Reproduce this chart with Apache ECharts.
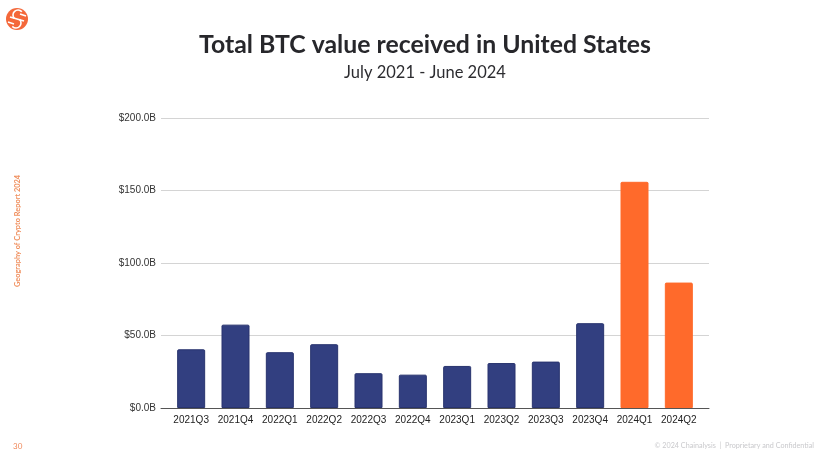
<!DOCTYPE html>
<html>
<head>
<meta charset="utf-8">
<style>
  html, body { margin: 0; padding: 0; background: #fff; }
  #chart { width: 828px; height: 462px; }
</style>
<script src="https://cdn.jsdelivr.net/npm/echarts@6/dist/echarts.min.js"></script>
</head>
<body>
<div id="chart"></div>
<script>
var quarters = ['2021Q3', '2021Q4', '2022Q1', '2022Q2', '2022Q3', '2022Q4', '2023Q1', '2023Q2', '2023Q3', '2023Q4', '2024Q1', '2024Q2'];
var btcValues = [40.5, 57.5, 38.5, 44, 24, 23, 29, 31, 32, 58.5, 156, 86.5];
var highlighted = ['2024Q1', '2024Q2'];

var navy = '#323f80';
var navyEdge = '#28336e';
var orange = '#ff6a2b';
var chart = echarts.init(document.getElementById('chart'));

chart.setOption({
    animation: false,
    backgroundColor: '#fff',
    title: [{
        text: 'Total BTC value received in United States',
        left: 425, top: 33, padding: 0, textAlign: 'center',
        textStyle: { fontFamily: 'Lato', fontSize: 24.8, fontWeight: 'bold', color: '#27272b' }
    }, {
        text: 'July 2021 - June 2024',
        left: 425, top: 64, padding: 0, textAlign: 'center',
        textStyle: { fontFamily: 'Lato', fontSize: 16.5, fontWeight: 'normal', color: '#2c2c30' }
    }, {
        text: '30',
        left: 13, top: 442, padding: 0,
        textStyle: { fontFamily: 'Lato', fontSize: 8, fontWeight: 'normal', color: '#f08a5c' }
    }, {
        text: '© 2024 Chainalysis  |  Proprietary and Confidential',
        right: 14, top: 442, padding: 0,
        textStyle: { fontFamily: 'Lato', fontSize: 7.2, fontWeight: 'normal', color: '#c9c9cc' }
    }],
    // the gridlines and baseline run past the bars, so they get their own wider grid
    grid: [
        { left: 161, right: 119, top: 118, bottom: 54 },
        { left: 169, right: 127, top: 118, bottom: 54 }
    ],
    xAxis: [{
        gridIndex: 0, type: 'category', data: quarters,
        axisLine: { show: true, lineStyle: { color: '#555', width: 1 } },
        axisTick: { show: false }, axisLabel: { show: false }
    }, {
        gridIndex: 1, type: 'category', data: quarters,
        axisLine: { show: false }, axisTick: { show: false },
        axisLabel: { interval: 0, margin: 7, fontFamily: 'Liberation Sans', fontSize: 10, color: '#222' }
    }],
    yAxis: [{
        gridIndex: 0, type: 'value', min: 0, max: 200, interval: 50,
        axisLine: { show: false }, axisTick: { show: false },
        splitLine: { lineStyle: { color: '#d4d4d4', width: 1 } },
        axisLabel: {
            margin: 5, fontFamily: 'Liberation Sans', fontSize: 10, color: '#333',
            formatter: function (v) { return '$' + v.toFixed(1) + 'B'; }
        }
    }, {
        gridIndex: 1, type: 'value', min: 0, max: 200, interval: 50,
        axisLine: { show: false }, axisTick: { show: false },
        splitLine: { show: false }, axisLabel: { show: false }
    }],
    series: [{
        type: 'bar',
        xAxisIndex: 1,
        yAxisIndex: 1,
        barWidth: 28,
        data: btcValues.map(function (v, i) {
            var hot = highlighted.indexOf(quarters[i]) >= 0;
            return {
                value: v,
                itemStyle: {
                    color: hot ? orange : navy,
                    borderColor: hot ? orange : navyEdge,
                    borderWidth: 1,
                    borderRadius: [1, 1, 0, 0]
                }
            };
        })
    }],
    graphic: [{
        type: 'text',
        x: 18, y: 231, rotation: Math.PI / 2, silent: true,
        style: {
            text: 'Geography of Crypto Report 2024',
            fontFamily: 'Lato', fontSize: 7.4, fontWeight: 'bold',
            fill: '#f0905f', align: 'center', verticalAlign: 'middle'
        }
    }, {
        type: 'group', x: 17, y: 19, silent: true,
        children: [
            { type: 'circle', shape: { cx: 0, cy: 0, r: 11 }, style: { fill: '#f4683a' } },
            { type: 'arc', shape: { cx: 1, cy: -4, r: 5, startAngle: 2.4, endAngle: 5.6 }, style: { stroke: '#fff', lineWidth: 1.6, fill: 'none' } },
            { type: 'arc', shape: { cx: -1, cy: 4, r: 5, startAngle: -0.8, endAngle: 2.4 }, style: { stroke: '#fff', lineWidth: 1.6, fill: 'none' } },
            { type: 'line', shape: { x1: -7, y1: -2, x2: 7, y2: 2 }, style: { stroke: '#fff', lineWidth: 1.6 } },
            { type: 'line', shape: { x1: -9, y1: 3, x2: -3, y2: 5 }, style: { stroke: '#fff', lineWidth: 1.4 } },
            { type: 'line', shape: { x1: 3, y1: -5, x2: 9, y2: -3 }, style: { stroke: '#fff', lineWidth: 1.4 } }
        ]
    }]
});
</script>
</body>
</html>
